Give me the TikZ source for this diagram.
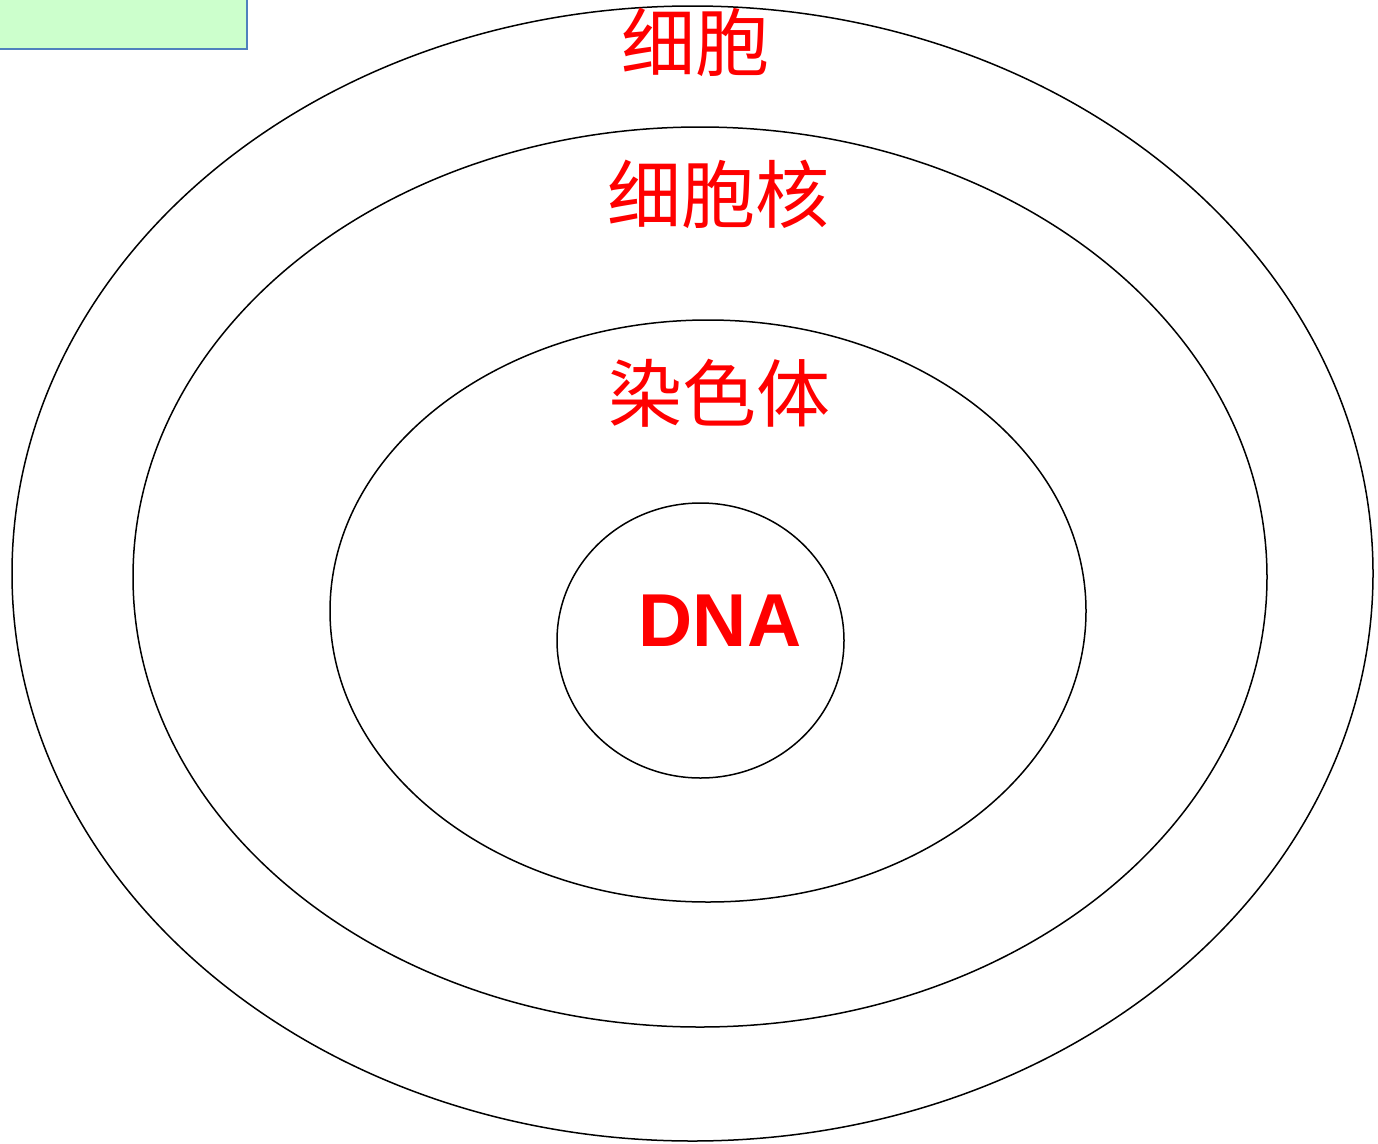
\documentclass[tikz,border=0pt]{standalone}
\usepackage{fontspec}
\newfontfamily\cjk{Noto Sans CJK SC}
\newfontfamily\arialb{Liberation Sans}[Scale=1.0]
\begin{document}
\begin{tikzpicture}[x=1pt,y=-1pt,
  ring/.style={draw=black,line width=1.5pt},
  lbl/.style={text=red,font=\cjk\fontsize{74}{74}\selectfont,inner sep=0pt},
  dna/.style={text=red,font=\arialb\bfseries\fontsize{75}{75}\selectfont,inner sep=0pt}]
\useasboundingbox (0,0) rectangle (1378,1143);
\fill[white] (0,0) rectangle (1378,1143);
\path[fill={rgb,255:red,204;green,255;blue,204},draw={rgb,255:red,79;green,129;blue,189},line width=2pt] (-10,-10) rectangle (247,49);
\draw[ring] (692.5,573.5) ellipse [x radius=680.5, y radius=567.5];
\draw[ring] (700,577) ellipse [x radius=567, y radius=450];
\draw[ring] (708,611) ellipse [x radius=378, y radius=291];
\draw[ring] (700.5,640.5) ellipse [x radius=143.5, y radius=137.5];
\node[lbl] (cell) at (695,42) {细胞};
\node[lbl] (nucleus) at (718,194) {细胞核};
\node[lbl] (chrom) at (719,393) {染色体};
\node[dna] (dna) at (720,621) {DNA};
\end{tikzpicture}
\end{document}
